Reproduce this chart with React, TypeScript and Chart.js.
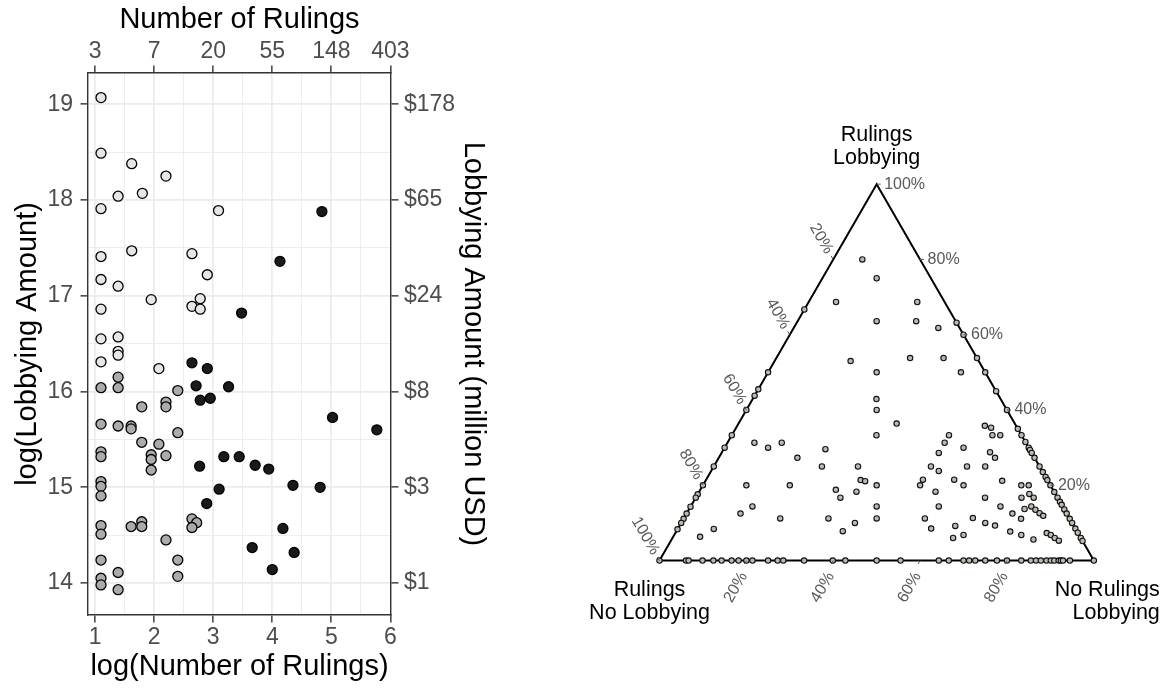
import React, { useEffect, useRef } from "react";
import { Chart, registerables } from "chart.js";

Chart.register(...registerables);

const FONT = "'Liberation Sans', Arial, Helvetica, sans-serif";

// ---------------- Left panel data: log(Number of Rulings) vs log(Lobbying Amount)
const lightX = [1.10, 1.10, 1.62, 2.20, 1.39, 1.80, 1.10, 3.09, 1.62, 2.64, 1.10, 1.10, 1.39, 2.90, 1.95, 2.78, 2.64, 2.78, 1.10, 1.10, 1.39, 1.10, 1.39, 1.39, 2.08];
const lightY = [19.07, 18.49, 18.38, 18.25, 18.04, 18.07, 17.91, 17.89, 17.47, 17.44, 17.41, 17.17, 17.10, 17.22, 16.96, 16.97, 16.89, 16.86, 16.86, 16.55, 16.57, 16.31, 16.42, 16.38, 16.24];

const grayX = [1.39, 1.10, 1.39, 2.40, 2.20, 2.20, 1.79, 1.10, 1.39, 1.61, 1.61, 2.40, 1.79, 2.08, 1.10, 1.10, 1.95, 1.95, 1.95, 2.20, 1.10, 1.10, 1.10, 1.10, 1.10, 1.61, 1.79, 1.79, 2.64, 2.72, 2.64, 2.20, 1.10, 2.40, 2.40, 1.10, 1.10, 1.39, 1.39];
const grayY = [16.15, 16.04, 16.04, 16.01, 15.89, 15.84, 15.84, 15.66, 15.64, 15.64, 15.61, 15.57, 15.47, 15.45, 15.37, 15.32, 15.34, 15.29, 15.18, 15.33, 15.06, 15.01, 14.91, 14.60, 14.51, 14.59, 14.64, 14.59, 14.67, 14.63, 14.58, 14.45, 14.24, 14.24, 14.07, 14.05, 13.98, 14.11, 13.93];

const blackX = [4.84, 4.13, 3.48, 2.64, 2.90, 2.71, 3.26, 2.78, 2.95, 5.02, 5.77, 2.77, 3.18, 3.44, 3.71, 3.94, 4.35, 4.81, 3.10, 2.89, 4.18, 3.66, 4.37, 4.00];
const blackY = [17.88, 17.36, 16.82, 16.30, 16.24, 16.06, 16.05, 15.91, 15.93, 15.73, 15.60, 15.22, 15.32, 15.32, 15.23, 15.19, 15.02, 15.00, 14.98, 14.83, 14.57, 14.37, 14.32, 14.14];

const xTicks = [1, 2, 3, 4, 5, 6];
const yTicks = [14, 15, 16, 17, 18, 19];
const topTickLabels = ["3", "7", "20", "55", "148", "403"];
const rightTickLabels = ["$1", "$3", "$8", "$24", "$65", "$178"];

// ---------------- Right panel data: ternary composition (percent)
// top = "Rulings Lobbying", right = "No Rulings Lobbying", remainder = "Rulings No Lobbying"
const ternTop = [
  66.7, 50, 45.5, 43.8, 40, 33.3, 30, 25, 20, 17.6, 16.7, 14.3, 12.5, 11.1, 10, 8.3, 0,
  63.2, 60, 53.8, 50, 45, 40, 35, 33.3, 31.5, 30, 29.4, 28.6, 27.3, 25, 23.5, 22.2, 21.4, 20, 18.2, 16.7, 15.6, 14.8, 13.6, 12.5, 11.1, 10, 8.5, 7.4, 6, 5.2, 0,
  0, 0, 0, 0, 0, 0, 0, 0, 0, 0, 0, 0, 0, 0, 0, 0, 0, 0, 0, 0, 0, 0, 0, 0, 0, 0, 0, 0, 0, 0, 0, 0, 0, 0, 0, 0,
  80, 75, 68.7, 68.7, 63.6, 63.6, 61.8, 53, 53.8, 53.8, 50, 50, 42.9, 40, 36.4, 33.3, 35.8, 35.3, 33.3, 33.3,
  33.3, 31.3, 30, 31.3, 30, 31.3, 29.6, 27.3, 20, 20, 14.4, 12.5, 11.2, 8.4, 6.3, 25, 25, 21.4, 21.1, 20,
  18.8, 16.7, 18.3, 14.4, 11.2, 11.2, 10, 7.8, 28.6, 25, 23.8, 21.5, 21.5, 20, 18.3, 14.4, 11.2, 8.5, 9.2, 6,
  28.8, 27.3, 25, 25, 20, 21.2, 20, 20, 16.7, 16.7, 17.7, 16.7, 14.4, 13.7, 14.4, 13.5, 12.6, 11.9, 12.5, 11.1,
  11.3, 10, 9.3, 6.8, 7.7, 6.8, 5.6, 7.3, 6.8, 6, 5.3,
];
const ternRight = [
  0, 0, 0, 0, 0, 0, 0, 0, 0, 0, 0, 0, 0, 0, 0, 0, 0,
  36.8, 40, 46.2, 50, 55, 60, 65, 66.7, 68.5, 70, 70.6, 71.4, 72.7, 75, 76.5, 77.8, 78.6, 80, 81.8, 83.3, 84.4, 85.2, 86.4, 87.5, 88.9, 90, 91.5, 92.6, 94, 94.8, 100,
  6.1, 6.7, 9.9, 12.4, 14.3, 16.6, 18.2, 20, 21.4, 25, 27.2, 28.5, 33.3, 39.9, 42.8, 50, 55.5, 64.3, 66.6, 70, 71.3, 72.7, 75, 77.7, 80, 83.3, 85.5, 86.7, 87.8, 89.1, 90.1, 90.9, 91.9, 92.4, 92.9, 94.5,
  6.7, 12.5, 6.3, 25, 18.2, 27.3, 33.3, 17.5, 30.8, 38.5, 44.4, 25, 28.5, 30, 36.4, 33.3, 57, 58.7, 60, 61.8,
  50, 50, 55, 6.2, 10, 12.5, 23.4, 18.1, 10, 20, 14.2, 12.4, 22.2, 8.3, 6.2, 24.9, 33.2, 35.6, 36.8, 40,
  31.2, 33.3, 36.2, 42.8, 33.3, 44.4, 40, 38.3, 50, 50, 52.4, 57.1, 49.9, 50, 54.4, 57.1, 55.5, 58.3, 63.5, 64.6,
  61.7, 63.6, 58.3, 62.5, 60, 68.3, 73.3, 75, 66.6, 75, 76.3, 77.8, 71.3, 77.2, 78.4, 79.8, 81.2, 82.4, 75, 77.7,
  66.5, 70, 72.6, 66.6, 76.9, 79.9, 83.3, 85.5, 86.7, 88, 89.3,
];
const triangleTop = [0, 0, 100, 0];
const triangleRight = [0, 100, 0, 0];
const sideTickValues = [20, 40, 60, 80, 100];
const bottomTickValues = [20, 40, 60, 80];
const cornerTopLabel = ["Rulings", "Lobbying"];
const cornerLeftLabel = ["Rulings", "No Lobbying"];
const cornerRightLabel = ["No Rulings", "Lobbying"];

// ---------------- layout constants
const LW = 500;
const H = 688;
const PANEL = { left: 88, right: 391, top: 73, bottom: 615 };
const RX0 = 520;
const RW = 1167 - RX0;
const TRI = { blX: 657.3 - RX0, blY: 563, side: 439.5 };

const isMajor = (v: number) => Math.abs(v - Math.round(v)) < 1e-6;
const withMinor = (arr: number[]) => {
  const out: number[] = [];
  arr.forEach((v, i) => {
    out.push(v);
    if (i < arr.length - 1) out.push((v + arr[i + 1]) / 2);
  });
  return out;
};

function ScatterPanel() {
  const ref = useRef<HTMLCanvasElement>(null);
  useEffect(() => {
    if (!ref.current) return;
    const xGrid = withMinor(xTicks);
    const yGrid = withMinor(yTicks);
    const tickFont = { family: FONT, size: 23 };
    const titleFont = { family: FONT, size: 29 };
    const grid = (onArea: boolean) => ({
      drawOnChartArea: onArea,
      color: "#ebebeb",
      lineWidth: (c: any) => (isMajor(c.tick?.value ?? 0) ? 1.7 : 0.9),
      tickColor: (c: any) => (isMajor(c.tick?.value ?? 0) ? "#333333" : "rgba(0,0,0,0)"),
      tickWidth: 1.4,
      tickLength: 7.5,
      drawTicks: true,
    });
    const border = { display: true, color: "#333333", width: 1.4 };
    const mk = (xs: number[], ys: number[], color: string) => ({
      data: xs.map((x, i) => ({ x, y: ys[i] })),
      backgroundColor: color,
      borderColor: "#000000",
      borderWidth: 1.3,
      pointRadius: 5,
      pointHoverRadius: 5,
    });
    const chart = new Chart(ref.current, {
      type: "scatter",
      data: {
        datasets: [
          mk(blackX, blackY, "#1a1a1a"),
          mk(grayX, grayY, "#ababab"),
          mk(lightX, lightY, "#e6e6e6"),
        ],
      },
      options: {
        animation: false,
        responsive: false,
        events: [],
        layout: { padding: 0 },
        plugins: { legend: { display: false }, tooltip: { enabled: false } },
        scales: {
          x: {
            type: "linear",
            position: "bottom",
            min: 0.88,
            max: 6.01,
            afterBuildTicks: (s: any) => { s.ticks = xGrid.map((v) => ({ value: v })); },
            afterFit: (s: any) => { s.height = H - PANEL.bottom; },
            ticks: { callback: (v: any) => (isMajor(v) ? String(v) : ""), color: "#4d4d4d", font: tickFont, padding: 1, maxRotation: 0, autoSkip: false },
            grid: grid(true),
            border,
            title: { display: true, text: "log(Number of Rulings)", color: "#000000", font: titleFont, padding: { top: 0, bottom: 3.6 } },
          },
          x2: {
            type: "linear",
            axis: "x",
            position: "top",
            min: 0.88,
            max: 6.01,
            afterBuildTicks: (s: any) => { s.ticks = xGrid.map((v) => ({ value: v })); },
            afterFit: (s: any) => { s.height = PANEL.top; },
            ticks: {
              callback: (v: any) => { const i = xTicks.indexOf(v); return i >= 0 ? topTickLabels[i] : ""; },
              color: "#4d4d4d", font: tickFont, padding: 0, maxRotation: 0, autoSkip: false,
            },
            grid: grid(false),
            border,
            title: { display: true, text: "Number of Rulings", color: "#000000", font: titleFont, padding: { top: 2.6, bottom: 0 } },
          },
          y: {
            type: "linear",
            position: "left",
            min: 13.666,
            max: 19.327,
            afterBuildTicks: (s: any) => { s.ticks = yGrid.map((v) => ({ value: v })); },
            afterFit: (s: any) => { s.width = PANEL.left; },
            ticks: { callback: (v: any) => (isMajor(v) ? String(v) : ""), color: "#4d4d4d", font: tickFont, padding: 7.5, autoSkip: false },
            grid: grid(true),
            border,
            title: { display: true, text: "log(Lobbying Amount)", color: "#000000", font: titleFont, padding: { top: 10.6, bottom: 0 } },
          },
          y2: {
            type: "linear",
            axis: "y",
            position: "right",
            min: 13.666,
            max: 19.327,
            afterBuildTicks: (s: any) => { s.ticks = yGrid.map((v) => ({ value: v })); },
            afterFit: (s: any) => { s.width = LW - PANEL.right; },
            ticks: {
              callback: (v: any) => { const i = yTicks.indexOf(v); return i >= 0 ? rightTickLabels[i] : ""; },
              color: "#4d4d4d", font: tickFont, padding: 5.5, autoSkip: false,
            },
            grid: grid(false),
            border,
            title: { display: true, text: "Lobbying Amount (million USD)", color: "#000000", font: titleFont, padding: { top: 9.6, bottom: 0 } },
          },
        },
      } as any,
    });
    return () => chart.destroy();
  }, []);
  return <canvas ref={ref} width={LW} height={H} style={{ position: "absolute", left: 0, top: 0, width: LW, height: H }} />;
}

const ternaryLabelsPlugin = {
  id: "ternaryLabels",
  afterDatasetsDraw(chart: any) {
    const { ctx } = chart;
    const sx = chart.scales.x;
    const sy = chart.scales.y;
    const P = (t: number, r: number) => ({
      x: sx.getPixelForValue(r / 100 + t / 200),
      y: sy.getPixelForValue((t / 100) * Math.sqrt(3) / 2),
    });
    const c = 0.5;
    const s = Math.sqrt(3) / 2;
    ctx.save();
    ctx.font = `16px ${FONT}`;
    ctx.fillStyle = "#595959";
    ctx.strokeStyle = "#595959";
    ctx.lineWidth = 1;
    ctx.textBaseline = "middle";
    // right edge: "Rulings Lobbying" share
    sideTickValues.forEach((v) => {
      const p = P(v, 100 - v);
      ctx.beginPath(); ctx.moveTo(p.x, p.y); ctx.lineTo(p.x + 4, p.y); ctx.stroke();
      ctx.textAlign = "left";
      ctx.fillText(`${v}%`, p.x + 7.5, p.y);
    });
    // left edge: "Rulings No Lobbying" share
    sideTickValues.forEach((v) => {
      const p = P(100 - v, 0);
      ctx.beginPath(); ctx.moveTo(p.x, p.y); ctx.lineTo(p.x - c * 4, p.y - s * 4); ctx.stroke();
      ctx.save();
      ctx.translate(p.x - c * 8, p.y - s * 8);
      ctx.rotate(Math.PI / 3);
      ctx.textAlign = "right";
      ctx.fillText(`${v}%`, 0, 0);
      ctx.restore();
    });
    // bottom edge: "No Rulings Lobbying" share
    bottomTickValues.forEach((v) => {
      const p = P(0, v);
      ctx.beginPath(); ctx.moveTo(p.x, p.y); ctx.lineTo(p.x - c * 4, p.y + s * 4); ctx.stroke();
      ctx.save();
      ctx.translate(p.x - 2.5, p.y + 13);
      ctx.rotate(-Math.PI / 3);
      ctx.textAlign = "right";
      ctx.fillText(`${v}%`, 0, 0);
      ctx.restore();
    });
    // corner labels
    ctx.font = `21.5px ${FONT}`;
    ctx.fillStyle = "#000000";
    ctx.textBaseline = "alphabetic";
    const top = P(100, 0);
    ctx.textAlign = "center";
    cornerTopLabel.forEach((t, i) => ctx.fillText(t, top.x, top.y - 43 + i * 23));
    const bl = P(0, 0);
    cornerLeftLabel.forEach((t, i) => ctx.fillText(t, bl.x - 10, bl.y + 35 + i * 23));
    const br = P(0, 100);
    ctx.textAlign = "right";
    cornerRightLabel.forEach((t, i) => ctx.fillText(t, br.x + 66, br.y + 35 + i * 23));
    ctx.restore();
  },
};

function TernaryPanel() {
  const ref = useRef<HTMLCanvasElement>(null);
  useEffect(() => {
    if (!ref.current) return;
    const toCart = (t: number, r: number) => ({ x: r / 100 + t / 200, y: (t / 100) * Math.sqrt(3) / 2 });
    const chart = new Chart(ref.current, {
      type: "scatter",
      data: {
        datasets: [
          {
            data: ternTop.map((t, i) => toCart(t, ternRight[i])),
            backgroundColor: "#bfb8af",
            borderColor: "#111111",
            borderWidth: 1.1,
            pointRadius: 2.7,
            pointHoverRadius: 2.7,
          },
          {
            data: triangleTop.map((t, i) => toCart(t, triangleRight[i])),
            showLine: true,
            borderColor: "#000000",
            borderWidth: 2,
            pointRadius: 0,
            fill: false,
          },
        ],
      },
      options: {
        animation: false,
        responsive: false,
        events: [],
        layout: { padding: 0 },
        plugins: { legend: { display: false }, tooltip: { enabled: false } },
        scales: {
          x: { type: "linear", display: false, min: -TRI.blX / TRI.side, max: (RW - TRI.blX) / TRI.side },
          y: { type: "linear", display: false, min: (TRI.blY - H) / TRI.side, max: TRI.blY / TRI.side },
        },
      } as any,
      plugins: [ternaryLabelsPlugin],
    });
    return () => chart.destroy();
  }, []);
  return <canvas ref={ref} width={RW} height={H} style={{ position: "absolute", left: RX0, top: 0, width: RW, height: H }} />;
}

export default function App() {
  return (
    <div style={{ position: "fixed", left: 0, top: 0, width: 1167, height: 688, background: "#ffffff", overflow: "hidden" }}>
      <ScatterPanel />
      <TernaryPanel />
    </div>
  );
}
